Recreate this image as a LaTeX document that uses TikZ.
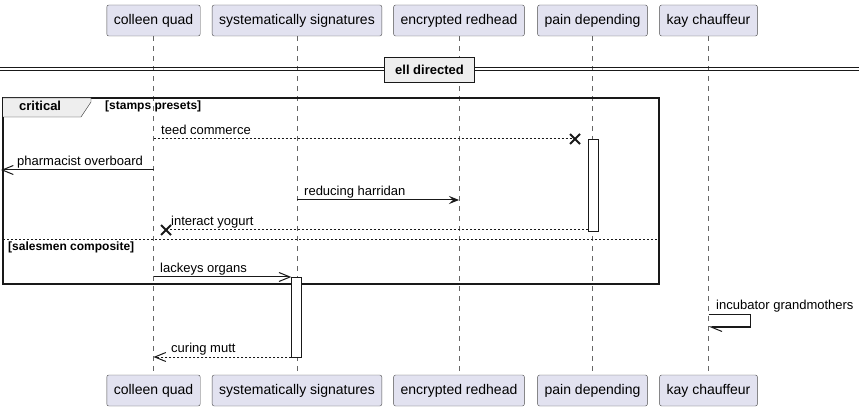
\documentclass[tikz,border=0pt]{standalone}
\usepackage{fontspec}
\setmainfont{Liberation Sans}
\usetikzlibrary{arrows.meta}
\definecolor{partfill}{HTML}{E2E2F0}
\definecolor{tabfill}{HTML}{EEEEEE}
\def\msgfont{\fontsize{13}{15}\selectfont}
\def\grdfont{\fontsize{12}{14}\selectfont\bfseries}
\def\xmark{+(-5,-5) -- +(5,5) +(-5,5) -- +(5,-5)}
\tikzset{
  part/.style={draw=black!70,fill=partfill,rounded corners=2pt,minimum height=31,
    inner xsep=7,font=\fontsize{14}{16}\selectfont},
  life/.style={draw=black!60,dash pattern=on 5pt off 5pt},
  act/.style={draw=black!90,fill=white,minimum width=10,inner sep=0},
  lbl/.style={font=\msgfont,anchor=base west,inner sep=0},
  msg/.style={draw=black!90,line width=1pt},
  dots/.style={dash pattern=on 2pt off 2pt},
  opentip/.tip={Straight Barb[length=11pt,width=9pt]},
  filltip/.tip={Stealth[length=10pt,width=8pt,inset=4pt]},
  lost/.style={draw=black!90,line width=2pt}
}

\begin{document}
\begin{tikzpicture}[x=1pt,y=-1pt]
  \useasboundingbox (0,0) rectangle (864,411);
  % participants
  \node[part] (ta) at (153.5,20.5) {colleen quad};
  \node[part] (tb) at (297,20.5) {systematically signatures};
  \node[part] (tc) at (459,20.5) {encrypted redhead};
  \node[part] (td) at (592.5,20.5) {pain depending};
  \node[part] (te) at (708.5,20.5) {kay chauffeur};
  \node[part] (ba) at (153.5,390.5) {colleen quad};
  \node[part] (bb) at (297,390.5) {systematically signatures};
  \node[part] (bc) at (459,390.5) {encrypted redhead};
  \node[part] (bd) at (592.5,390.5) {pain depending};
  \node[part] (be) at (708.5,390.5) {kay chauffeur};
  \draw[life] (ta) -- (ba);
  \draw[life] (tb) -- (bb);
  \draw[life] (tc) -- (bc);
  \draw[life] (td) -- (bd);
  \draw[life] (te) -- (be);
  % divider
  \draw[black!90,line width=1pt] (0,68) -- (859,68) (0,71) -- (859,71);
  \node[draw=black!90,line width=1.5pt,fill=tabfill,minimum width=90,minimum height=25,
    font=\fontsize{13}{15}\selectfont\bfseries] (dv) at (429.5,70) {ell directed};
  % critical frame
  \draw[black!90,line width=1.5pt] (3,98) rectangle (659,284);
  \draw[black!90,fill=tabfill] (3,98) -- (91,98) -- (91,102) -- (81,117) -- (3,117);
  \node[anchor=base west,inner sep=0,font=\fontsize{13}{15}\selectfont\bfseries] (cr) at (19,111) {critical};
  \node[anchor=base west,inner sep=0,font=\grdfont] (g1) at (105,110) {[stamps presets]};
  \draw[black!90,dots] (3,239) -- (659,239);
  \node[anchor=base west,inner sep=0,font=\grdfont] (g2) at (8,251) {[salesmen composite]};
  % activations
  \node[act,minimum height=92] (ad) at (593,185) {};
  \node[act,minimum height=80] (ab) at (296.5,317) {};
  % rows
  \coordinate (r1) at (575,139);
  \coordinate (r2) at (1,170);
  \coordinate (r3) at (0,200);
  \coordinate (r4) at (166,230);
  \coordinate (r5) at (0,277);
  \coordinate (r6) at (0,315);
  \coordinate (r7) at (0,327);
  \coordinate (r8) at (0,357);
  % messages
  \draw[msg,dots] (ta |- r1) -- (r1);
  \draw[lost] (r1) \xmark;
  \node[lbl] (l1) at (161,135) {teed commerce};
  \draw[msg,-opentip] (ta |- r2) -- (r2);
  \node[lbl] (l2) at (17,165.5) {pharmacist overboard};
  \draw[msg,-filltip] (tb |- r3) -- (tc |- r3);
  \node[lbl] (l3) at (304,195.5) {reducing harridan};
  \draw[msg,dots] (ad.west |- r4) -- (r4);
  \draw[lost] (r4) \xmark;
  \node[lbl] (l4) at (171,225.5) {interact yogurt};
  \draw[msg,-opentip] (ta |- r5) -- (ab.west |- r5);
  \node[lbl] (l5) at (160,272.5) {lackeys organs};
  \draw[msg,-{Straight Barb[left,length=11pt,width=9pt]}] (te |- r6) -- ++(42,0) -- ++(0,12) -- (te |- r7);
  \node[lbl] (l6) at (716,309) {incubator grandmothers};
  \draw[msg,dots,-opentip] (ab.west |- r8) -- (ta |- r8);
  \node[lbl] (l7) at (171,352.5) {curing mutt};
\end{tikzpicture}
\end{document}
